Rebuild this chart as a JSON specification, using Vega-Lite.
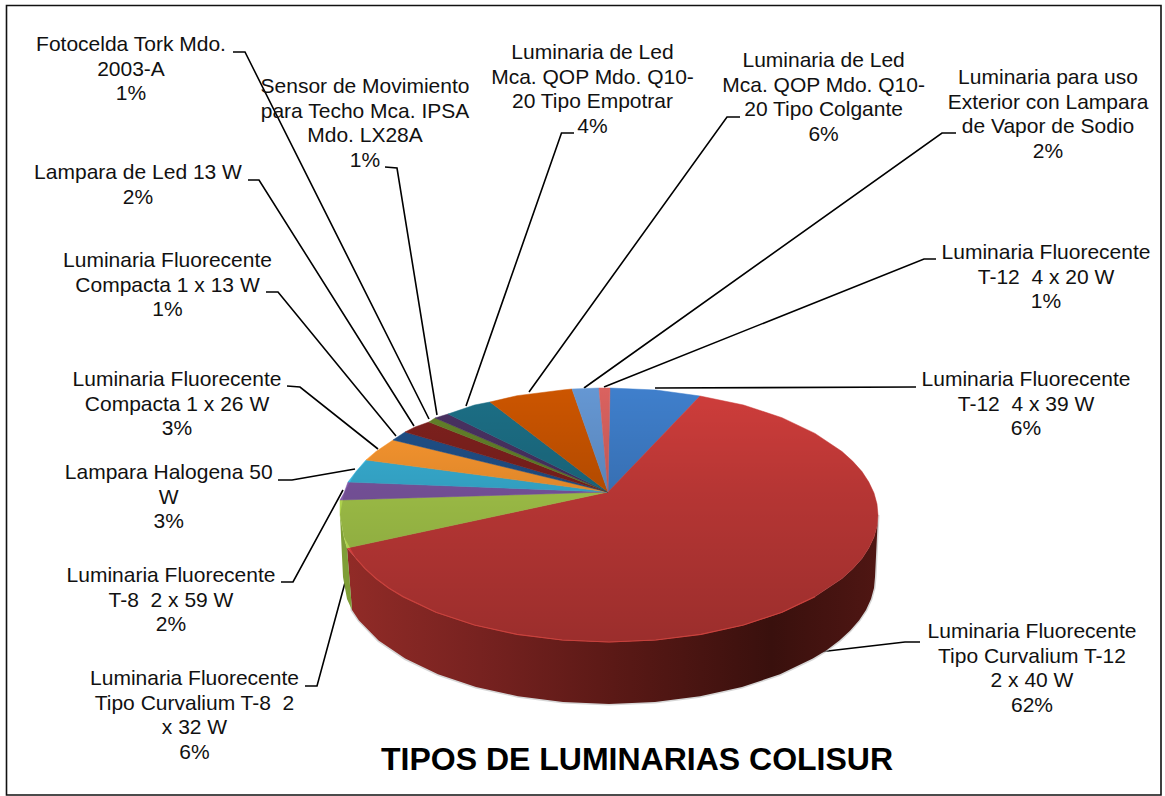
{
"$schema":"https://vega.github.io/schema/vega-lite/v6.json",
"width":1165,"height":796,"padding":0,"autosize":"none","background":"white",
"config":{"view":{"stroke":null}},
"projection":{"type":"identity","reflectY":true,"scale":1,"translate":[608,492]},
"datasets":{
"slices":[
{"name":"T-12 4x39","pct":6,"label":"Luminaria Fluorecente\nT-12\u00a0 4 x 39 W\n6%","lon":418,"lat":112,
 "top":{"type":"Polygon","coordinates":[[[0,0],[2,104],[48,102],[92,96],[0,0]]]},
 "leader":{"type":"LineString","coordinates":[[308,105],[47,104]]}},
{"name":"Curvalium T-12","pct":62,"label":"Luminaria Fluorecente\nTipo Curvalium T-12\n2 x 40 W\n62%","lon":424,"lat":-140,
 "top":{"type":"Polygon","coordinates":[[[0,0],[92,96],[135.5,87],[174,74.3],[207,58.6],[234,40.5],[244.8,30.7],[254,20.4],[260.8,10],[266,-1],[269,-12],[270,-23],[269,-34],[266,-45],[260.8,-55.9],[254,-66.4],[244.8,-76.7],[234,-86.5],[207,-104.6],[174,-120.3],[135.5,-133],[93,-142.3],[47.7,-148],[1,-150],[-45.7,-148],[-91,-142.3],[-133.5,-133],[-172,-120.3],[-205,-104.6],[-219.3,-95.9],[-232,-86.5],[-242.8,-76.7],[-252,-66.4],[-261,-56],[0,0]]]},
 "leader":{"type":"LineString","coordinates":[[312,-150],[297,-150],[211,-160]]}},
{"name":"Curvalium T-8","pct":6,"label":"Luminaria Fluorecente\nTipo Curvalium T-8\u00a0 2\nx 32 W\n6%","lon":-413.5,"lat":-187,
 "top":{"type":"Polygon","coordinates":[[[0,0],[-261,-56],[-264,-45],[-268,-23],[-268,-8],[0,0]]]},
 "leader":{"type":"LineString","coordinates":[[-303,-194],[-291,-194],[-262,-87]]}},
{"name":"T-8 2x59","pct":2,"label":"Luminaria Fluorecente\nT-8\u00a0 2 x 59 W\n2%","lon":-437,"lat":-84,
 "top":{"type":"Polygon","coordinates":[[[0,0],[-268,-8],[-264,-1],[-260,10],[0,0]]]},
 "leader":{"type":"LineString","coordinates":[[-327,-90],[-315,-90],[-265,2]]}},
{"name":"Halogena 50","pct":3,"label":"Lampara Halogena 50\nW\n3%","lon":-439.3,"lat":19,
 "top":{"type":"Polygon","coordinates":[[[0,0],[-260,10],[-252,20.4],[-242,32],[0,0]]]},
 "leader":{"type":"LineString","coordinates":[[-330,12],[-316,12],[-253,23]]}},
{"name":"Compacta 26","pct":3,"label":"Luminaria Fluorecente\nCompacta 1 x 26 W\n3%","lon":-431,"lat":112,
 "top":{"type":"Polygon","coordinates":[[[0,0],[-242,32],[-232,40.5],[-215,52],[0,0]]]},
 "leader":{"type":"LineString","coordinates":[[-321,106],[-308,105],[-230,43]]}},
{"name":"Compacta 13","pct":1,"label":"Luminaria Fluorecente\nCompacta 1 x 13 W\n1%","lon":-440.5,"lat":231,
 "top":{"type":"Polygon","coordinates":[[[0,0],[-215,52],[-203,60],[0,0]]]},
 "leader":{"type":"LineString","coordinates":[[-342,200],[-330,200],[-212,56]]}},
{"name":"Led 13","pct":2,"label":"Lampara de Led 13 W\n2%","lon":-470,"lat":319,
 "top":{"type":"Polygon","coordinates":[[[0,0],[-203,60],[-193,65],[-179,70],[0,0]]]},
 "leader":{"type":"LineString","coordinates":[[-360,312],[-349,312],[-194,66]]}},
{"name":"Fotocelda","pct":1,"label":"Fotocelda Tork Mdo.\n2003-A\n1%","lon":-477,"lat":447,
 "top":{"type":"Polygon","coordinates":[[[0,0],[-179,70],[-173,74],[0,0]]]},
 "leader":{"type":"LineString","coordinates":[[-375,440],[-363,440],[-179,73]]}},
{"name":"Sensor","pct":1,"label":"Sensor de Movimiento\npara Techo Mca. IPSA\nMdo. LX28A\n1%","lon":-243,"lat":405,
 "top":{"type":"Polygon","coordinates":[[[0,0],[-173,74],[-160,78],[0,0]]]},
 "leader":{"type":"LineString","coordinates":[[-223,325],[-211,324],[-171,77]]}},
{"name":"Empotrar","pct":4,"label":"Luminaria de Led\nMca. QOP Mdo. Q10-\n20 Tipo Empotrar\n4%","lon":-15.5,"lat":439,
 "top":{"type":"Polygon","coordinates":[[[0,0],[-160,78],[-133.5,87],[-118,90],[0,0]]]},
 "leader":{"type":"LineString","coordinates":[[-34,359],[-46.5,359],[-142,86]]}},
{"name":"Colgante","pct":6,"label":"Luminaria de Led\nMca. QOP Mdo. Q10-\n20 Tipo Colgante\n6%","lon":215.6,"lat":431,
 "top":{"type":"Polygon","coordinates":[[[0,0],[-118,90],[-91,96.3],[-45.7,102],[-36,103],[0,0]]]},
 "leader":{"type":"LineString","coordinates":[[132,375],[119,375],[-79,100]]}},
{"name":"Vapor de Sodio","pct":2,"label":"Luminaria para uso\nExterior con Lampara\nde Vapor de Sodio\n2%","lon":440,"lat":414,
 "top":{"type":"Polygon","coordinates":[[[0,0],[-36,103],[-9,104],[0,0]]]},
 "leader":{"type":"LineString","coordinates":[[348,359],[334,359],[-24,104]]}},
{"name":"T-12 4x20","pct":1,"label":"Luminaria Fluorecente\nT-12\u00a0 4 x 20 W\n1%","lon":438,"lat":239,
 "top":{"type":"Polygon","coordinates":[[[0,0],[-9,104],[2,104],[0,0]]]},
 "leader":{"type":"LineString","coordinates":[[328,233],[316,233],[-4,105]]}}
],
"redWall":[{"part":"red wall","g":{"type":"Polygon","coordinates":[[[270,-23],[269,-34],[266,-45],[260.8,-55.9],[254,-66.4],[244.8,-76.7],[234,-86.5],[207,-104.6],[174,-120.3],[135.5,-133],[93,-142.3],[47.7,-148],[1,-150],[-45.7,-148],[-91,-142.3],[-133.5,-133],[-172,-120.3],[-205,-104.6],[-219.3,-95.9],[-232,-86.5],[-242.8,-76.7],[-252,-66.4],[-261,-56],[-256,-118],[-249,-128.4],[-229.4,-148.5],[-202.8,-166.6],[-170,-182.3],[-132,-195],[-90,-204.3],[-45,-210],[1,-212],[47,-210],[92,-204.3],[134,-195],[172,-182.3],[204.8,-166.6],[218.9,-157.9],[231.4,-148.5],[242,-138.7],[251,-128.4],[258,-118],[263,-107],[266,-96],[267,-85],[270,-23]]]}}],
"greenWall":[{"part":"green wall","g":{"type":"Polygon","coordinates":[[[-261,-56],[-264,-45],[-268,-23],[-265,-85],[-261,-107],[-256,-118],[-261,-56]]]}}],
"disc":[{"part":"top shading","g":{"type":"Polygon","coordinates":[[[1,104],[48,102],[93,96.3],[135.5,87],[174,74.3],[207,58.6],[234,40.5],[244.8,30.7],[254,20.4],[260.8,10],[266,-1],[269,-12],[270,-23],[269,-34],[266,-45],[260.8,-55.9],[254,-66.4],[244.8,-76.7],[234,-86.5],[207,-104.6],[174,-120.3],[135.5,-133],[93,-142.3],[47.7,-148],[1,-150],[-45.7,-148],[-91,-142.3],[-133.5,-133],[-172,-120.3],[-205,-104.6],[-219.3,-95.9],[-232,-86.5],[-242.8,-76.7],[-252,-66.4],[-264,-45],[-268,-23],[-264,-1],[-252,20.4],[-232,40.5],[-205,58.6],[-172,74.3],[-133.5,87],[-91,96.3],[-45.7,102],[1,104]]]}}],
"rim":[{"part":"rim","g":{"type":"LineString","coordinates":[[-252,-66.4],[-242.8,-76.7],[-232,-86.5],[-219.3,-95.9],[-205,-104.6],[-172,-120.3],[-133.5,-133],[-91,-142.3],[-45.7,-148],[1,-150],[47.7,-148],[93,-142.3],[135.5,-133],[174,-120.3],[207,-104.6]]}}],
"frame":[{"part":"frame","g":{"type":"Polygon","coordinates":[[[-601.5,486.5],[553,486.5],[553,-303],[-601.5,-303],[-601.5,486.5]]]}}],
"title":[{"t":"TIPOS DE LUMINARIAS COLISUR","lon":29,"lat":-268}]
},
"layer":[
{"data":{"name":"frame"},"mark":{"type":"geoshape","filled":false,"stroke":"#111111","strokeWidth":1.6},"encoding":{"shape":{"field":"g","type":"geojson"}}},
{"data":{"name":"slices"},"mark":{"type":"geoshape","filled":false,"stroke":"#000000","strokeWidth":1.6},"encoding":{"shape":{"field":"leader","type":"geojson"}}},
{"data":{"name":"redWall"},"mark":{"type":"geoshape","fill":"#999999","stroke":"#bbbbbb","strokeWidth":3,"opacity":0.6},"encoding":{"shape":{"field":"g","type":"geojson"}}},
{"data":{"name":"redWall"},"mark":{"type":"geoshape","stroke":null,"fill":{"gradient":"linear","x1":0,"y1":0,"x2":1,"y2":0,"stops":[{"offset":0,"color":"#912b27"},{"offset":0.25,"color":"#772220"},{"offset":0.5,"color":"#5b1916"},{"offset":0.8,"color":"#39100d"},{"offset":1,"color":"#4f1613"}]}},"encoding":{"shape":{"field":"g","type":"geojson"}}},
{"data":{"name":"greenWall"},"mark":{"type":"geoshape","fill":"#7f9e37","stroke":null},"encoding":{"shape":{"field":"g","type":"geojson"}}},
{"data":{"name":"slices"},"mark":{"type":"geoshape","strokeWidth":0.5},"encoding":{"shape":{"field":"top","type":"geojson"},
 "fill":{"field":"name","type":"nominal","legend":null,"scale":{"domain":["T-12 4x39","Curvalium T-12","Curvalium T-8","T-8 2x59","Halogena 50","Compacta 26","Compacta 13","Led 13","Fotocelda","Sensor","Empotrar","Colgante","Vapor de Sodio","T-12 4x20"],"range":["#3f7fcc","#cf3d3b","#aed24e","#8159a8","#39b4da","#ff9a30","#20518a","#80211e","#64832a","#4a3263","#1c6f86","#cc5500","#6597d3","#da625f"]}},
 "stroke":{"field":"name","type":"nominal","legend":null,"scale":{"domain":["T-12 4x39","Curvalium T-12","Curvalium T-8","T-8 2x59","Halogena 50","Compacta 26","Compacta 13","Led 13","Fotocelda","Sensor","Empotrar","Colgante","Vapor de Sodio","T-12 4x20"],"range":["#3f7fcc","#cf3d3b","#aed24e","#8159a8","#39b4da","#ff9a30","#20518a","#80211e","#64832a","#4a3263","#1c6f86","#cc5500","#6597d3","#da625f"]}}}},
{"data":{"name":"disc"},"mark":{"type":"geoshape","stroke":null,"fill":{"gradient":"linear","x1":0,"y1":0,"x2":0,"y2":1,"stops":[{"offset":0,"color":"rgba(0,0,0,0)"},{"offset":0.4,"color":"rgba(0,0,0,0.12)"},{"offset":1,"color":"rgba(0,0,0,0.25)"}]}},"encoding":{"shape":{"field":"g","type":"geojson"}}},
{"data":{"name":"rim"},"mark":{"type":"geoshape","filled":false,"stroke":"#c8413c","strokeWidth":1.2},"encoding":{"shape":{"field":"g","type":"geojson"}}},
{"data":{"name":"slices"},"mark":{"type":"text","font":"Liberation Sans","fontSize":21,"color":"#111111","align":"center","baseline":"middle","lineBreak":"\n","lineHeight":24.5},"encoding":{"longitude":{"field":"lon","type":"quantitative"},"latitude":{"field":"lat","type":"quantitative"},"text":{"field":"label","type":"nominal"}}},
{"data":{"name":"title"},"mark":{"type":"text","font":"Liberation Sans","fontSize":32,"fontWeight":"bold","color":"#000000","align":"center","baseline":"middle"},"encoding":{"longitude":{"field":"lon","type":"quantitative"},"latitude":{"field":"lat","type":"quantitative"},"text":{"field":"t","type":"nominal"}}}
]
}
